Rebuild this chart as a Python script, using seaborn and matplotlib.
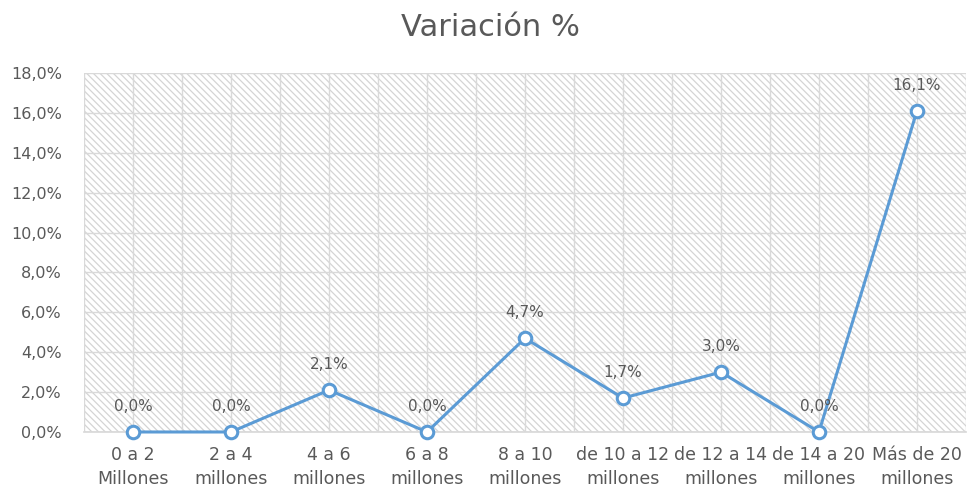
import matplotlib

matplotlib.use("Agg")

import matplotlib.pyplot as plt
import pandas as pd
import seaborn as sns
from matplotlib.patches import Rectangle
from matplotlib.ticker import FuncFormatter, MultipleLocator

categories = [
    "0 a 2\nMillones",
    "2 a 4\nmillones",
    "4 a 6\nmillones",
    "6 a 8\nmillones",
    "8 a 10\nmillones",
    "de 10 a 12\nmillones",
    "de 12 a 14\nmillones",
    "de 14 a 20\nmillones",
    "Más de 20\nmillones",
]
variacion = [0.0, 0.0, 2.1, 0.0, 4.7, 1.7, 3.0, 0.0, 16.1]

TEXT = "#595959"
GRID = "#d9d9d9"
BLUE = "#5b9bd5"
FONT = "DejaVu Sans"

sns.set_theme(style="white")
plt.rcParams["font.family"] = [FONT]
plt.rcParams["hatch.linewidth"] = 0.9

df = pd.DataFrame({"rango": categories, "variacion": variacion})

fig = plt.figure(figsize=(9.67, 4.91), dpi=100)
ax = fig.add_axes([0.0869, 0.1202, 0.912, 0.7311])

# hatched plot background
ax.add_patch(Rectangle((0, 0), 1, 1, transform=ax.transAxes, fill=False,
                       hatch="\\" * 5, edgecolor="#d4d4d4", lw=0, zorder=0))

sns.lineplot(data=df, x="rango", y="variacion", sort=False, color=BLUE,
             linewidth=2.2, marker="o", markersize=9, markerfacecolor="white",
             markeredgecolor=BLUE, markeredgewidth=2.2, ax=ax, zorder=3,
             clip_on=False)

for i, v in enumerate(variacion):
    ax.annotate(f"{v:.1f}%".replace(".", ","), (i, v), xytext=(0, 13),
                textcoords="offset points", ha="center", va="bottom",
                fontsize=11, color=TEXT, zorder=4)

ax.set_xlim(-0.5, len(categories) - 0.5)
ax.set_ylim(0, 18)
ax.yaxis.set_major_locator(MultipleLocator(2))
ax.yaxis.set_major_formatter(FuncFormatter(lambda y, _: f"{y:.1f}%".replace(".", ",")))
ax.set_xticks(range(len(categories)))
ax.set_xticks([i + 0.5 for i in range(-1, len(categories))], minor=True)
ax.set_xticklabels(categories, linespacing=1.45)

ax.grid(True, which="major", color=GRID, lw=1)
ax.grid(True, which="minor", axis="x", color=GRID, lw=1)
ax.set_axisbelow(True)
for s in ax.spines.values():
    s.set_visible(False)
ax.spines["bottom"].set_visible(True)
ax.spines["bottom"].set_color(GRID)

ax.tick_params(axis="both", which="both", length=0, colors=TEXT)
ax.tick_params(axis="x", labelsize=12.5, pad=10)
ax.tick_params(axis="y", labelsize=11.5, pad=16)
ax.set_xlabel("")
ax.set_ylabel("")

fig.text(0.507, 0.943, "Variación %", ha="center", va="center", fontsize=22,
         color=TEXT)

fig.savefig("out.png", dpi=100)
